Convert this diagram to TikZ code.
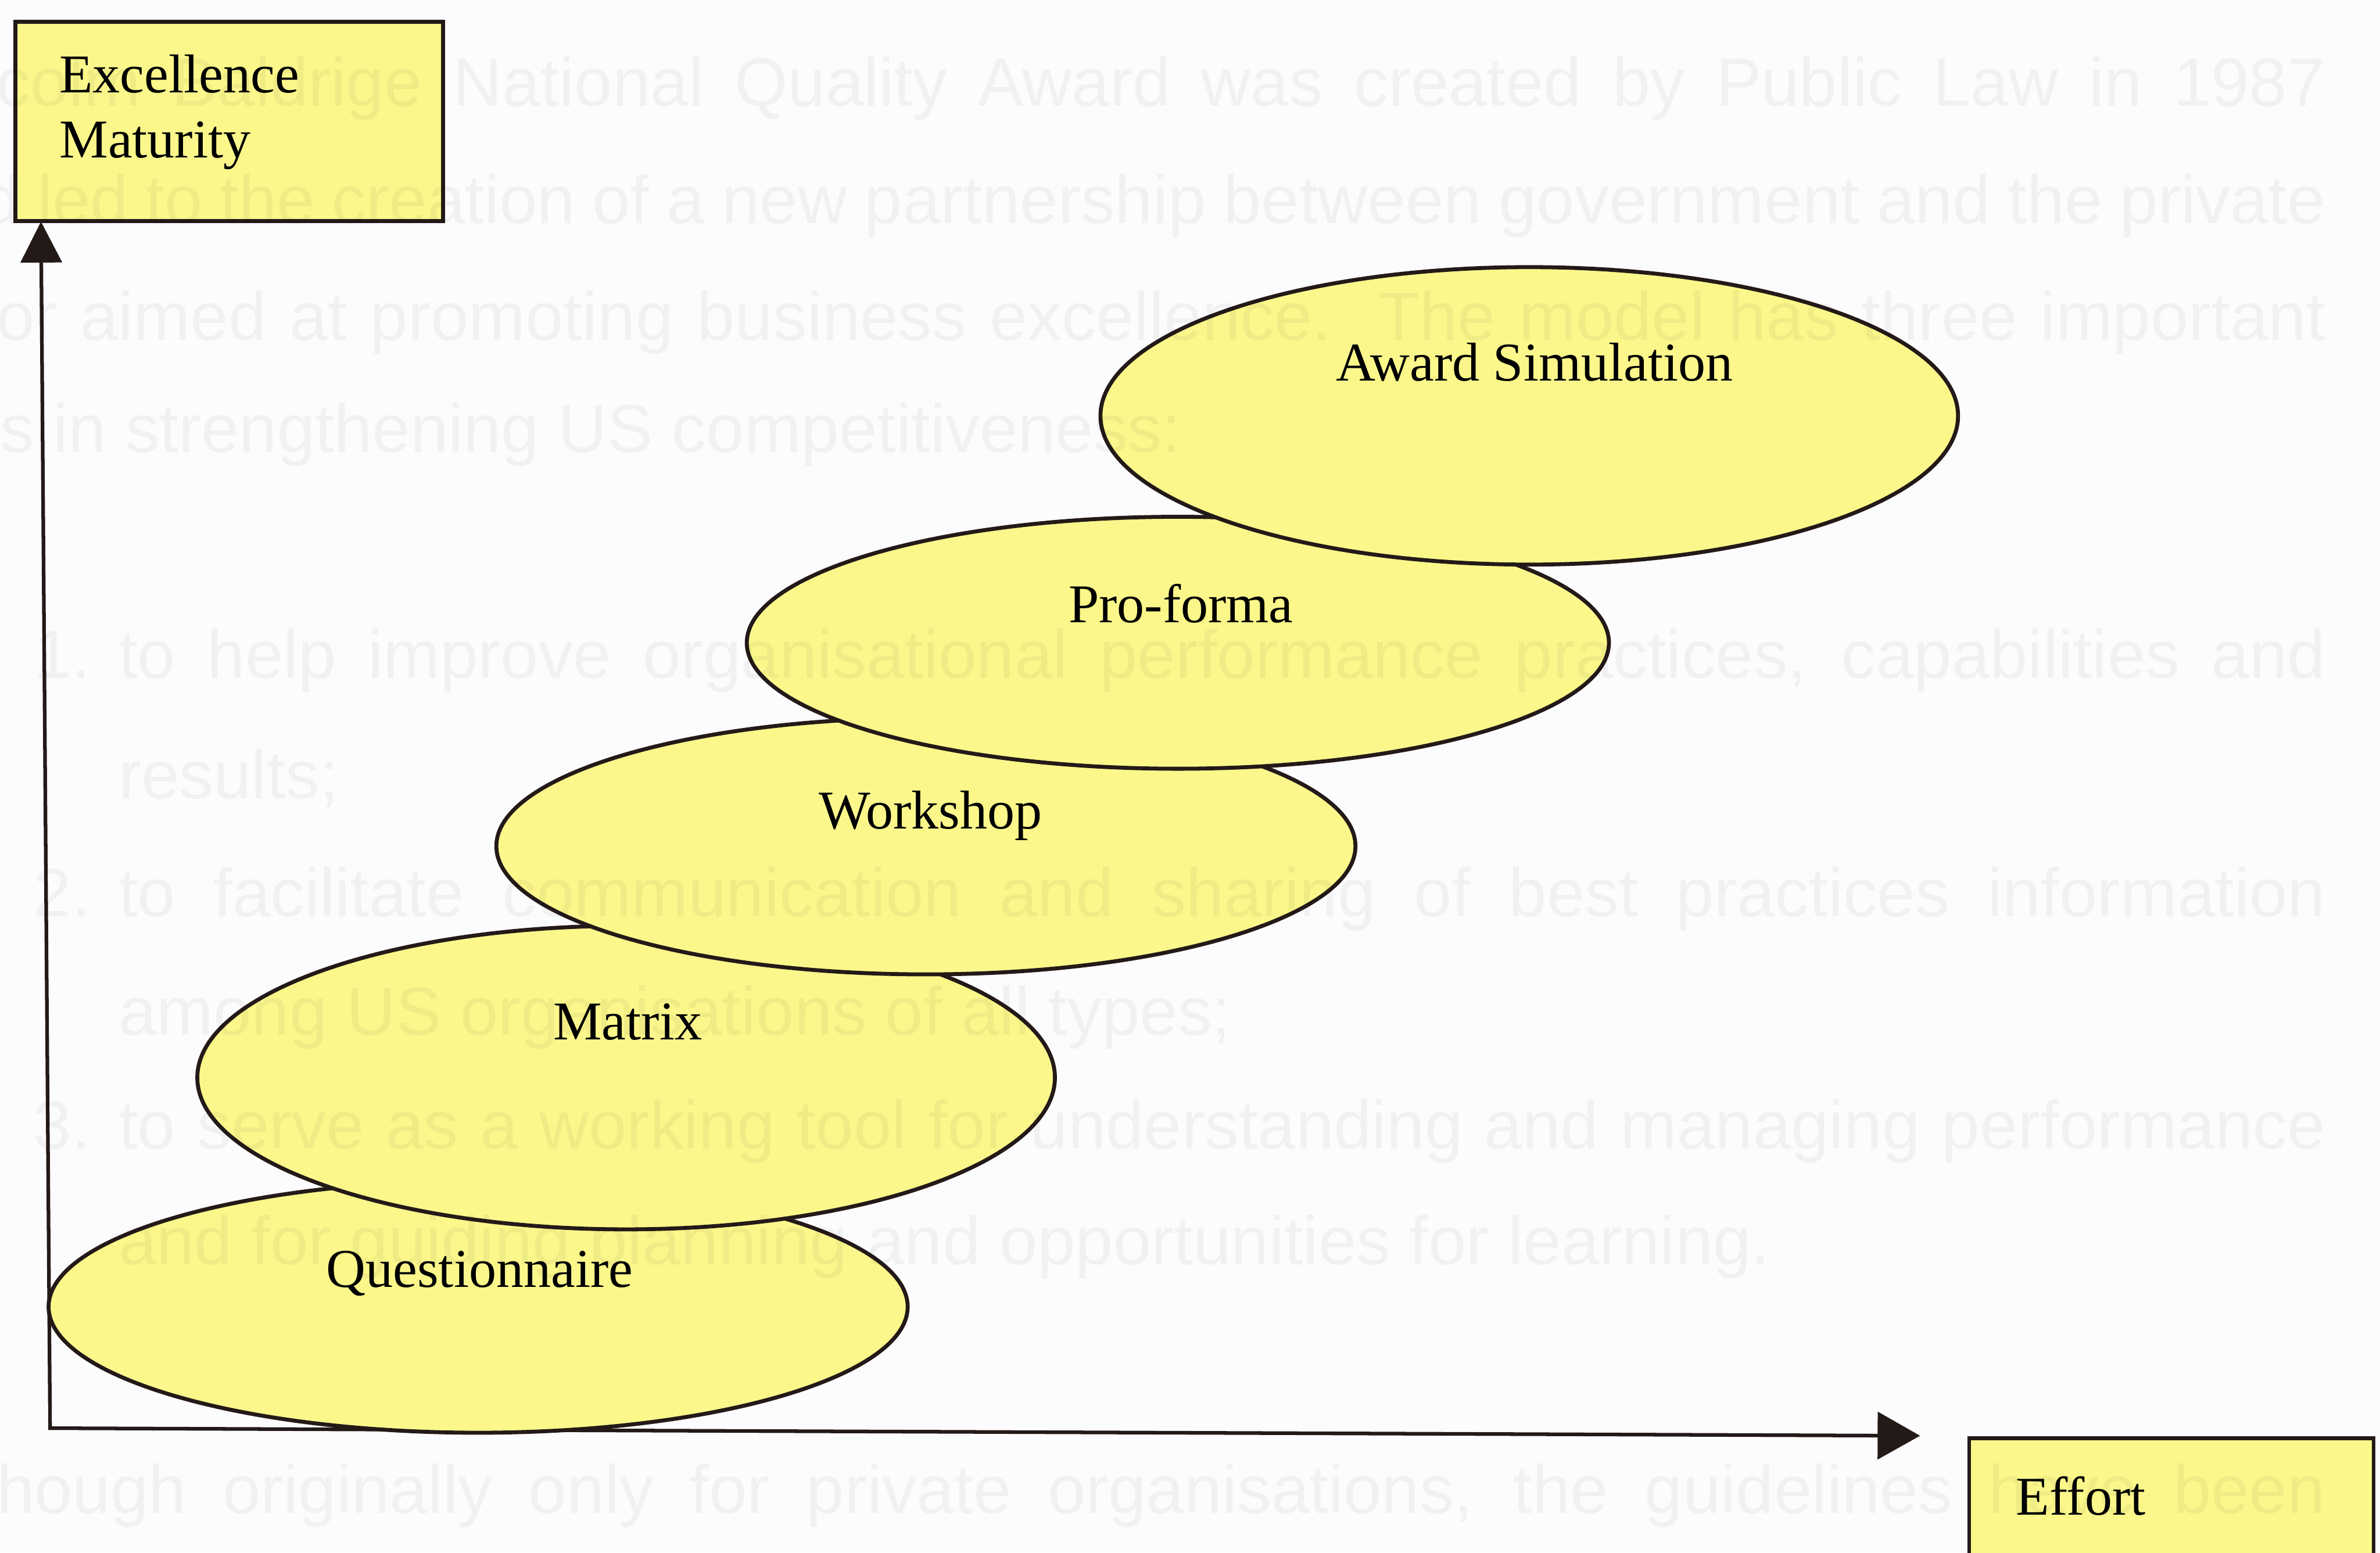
\documentclass[tikz,border=0pt]{standalone}
\usepackage{fontspec}
\setmainfont{Liberation Serif}
\newfontfamily\ghostfont{Liberation Sans}
\usetikzlibrary{shapes.geometric,arrows.meta}

\definecolor{paper}{RGB}{252,251,254}
\definecolor{hl}{RGB}{251,247,139}
\definecolor{ink}{RGB}{35,26,24}

\begin{document}
\begin{tikzpicture}[x=1pt,y=-1pt,
  stage/.style={ellipse, draw=ink, fill=hl, line width=2.6pt, inner sep=0pt},
  tag/.style={anchor=base, inner sep=0pt, font=\fontsize{36}{43}\selectfont, text=black},
  tagleft/.style={tag, anchor=base west},
  labelbox/.style={rectangle, draw=ink, fill=hl, line width=2.6pt, inner sep=0pt, anchor=north west},
  axis/.style={draw=ink, line width=2.4pt, line join=miter},
  ghost/.style={anchor=base west, inner sep=0pt, font=\ghostfont\fontsize{45}{54}\selectfont,
                text=black, text opacity=0.045},
]
% page
\useasboundingbox (0,0) rectangle (1568,1023);
\fill[paper] (0,0) rectangle (1568,1023);
\clip (0,0) rectangle (1568,1023);

% axis labels
\node[labelbox, minimum width=282pt, minimum height=131.5pt] (ybox) at (8.7,13) {};
\node[tagleft] (ytxt1) at (39,61) {Excellence};
\node[tagleft] (ytxt2) at (39,104) {Maturity};

\node[labelbox, minimum width=266.5pt, minimum height=160pt] (xbox) at (1296,946.4) {};
\node[tagleft] (xtxt) at (1328,998) {Effort};

% axes
\coordinate (origin) at (33,941);
\coordinate (ytip) at (27,146);
\coordinate (xtip) at (1265,946);
\draw[axis, {Triangle[length=27pt,width=27pt]}-{Triangle[length=28pt,width=31pt]}]
  (ytip) -- (origin) -- (xtip);

% stages, lowest first so that each one overlaps the previous
\node[stage, minimum width=566pt, minimum height=166pt] (quest) at (315,861) {};
\node[tag] (quest-t) at (316,848) {Questionnaire};

\node[stage, minimum width=565pt, minimum height=200pt] (matrix) at (412.5,710) {};
\node[tag] (matrix-t) at (413.5,685) {Matrix};

\node[stage, minimum width=566pt, minimum height=169pt] (work) at (610,557.5) {};
\node[tag] (work-t) at (613,546) {Workshop};

\node[stage, minimum width=568pt, minimum height=166pt] (pro) at (776,423.5) {};
\node[tag] (pro-t) at (778,410) {Pro-forma};

\node[stage, minimum width=565pt, minimum height=196pt] (award) at (1007.5,274) {};
\node[tag] (award-t) at (1011,251) {Award Simulation};

% faint printed page text showing through
\node[ghost] (g1) at (-75,70) {\makebox[1607pt][s]{Malcolm Baldrige National Quality Award was created by Public Law in 1987}};
\node[ghost] (g2) at (-62,147) {\makebox[1594pt][s]{and led to the creation of a new partnership between government and the private}};
\node[ghost] (g3) at (-85,224) {\makebox[1617pt][s]{sector aimed at promoting business excellence.\ \ The model has three important}};
\node[ghost] (g4) at (-75,298) {roles in strengthening US competitiveness:};
\node[ghost] (n1) at (22,447) {1.};
\node[ghost] (g5) at (78,447) {\makebox[1454pt][s]{to help improve organisational performance practices, capabilities and}};
\node[ghost] (g6) at (78,526) {results;};
\node[ghost] (n2) at (22,604) {2.};
\node[ghost] (g7) at (78,604) {\makebox[1454pt][s]{to facilitate communication and sharing of best practices information}};
\node[ghost] (g8) at (78,682) {among US organisations of all types;};
\node[ghost] (n3) at (22,757) {3.};
\node[ghost] (g9) at (78,757) {\makebox[1454pt][s]{to serve as a working tool for understanding and managing performance}};
\node[ghost] (g10) at (78,833) {and for guiding planning and opportunities for learning.};
\node[ghost] (g11) at (-55,997) {\makebox[1587pt][s]{Although originally only for private organisations, the guidelines have been}};
\end{tikzpicture}
\end{document}
